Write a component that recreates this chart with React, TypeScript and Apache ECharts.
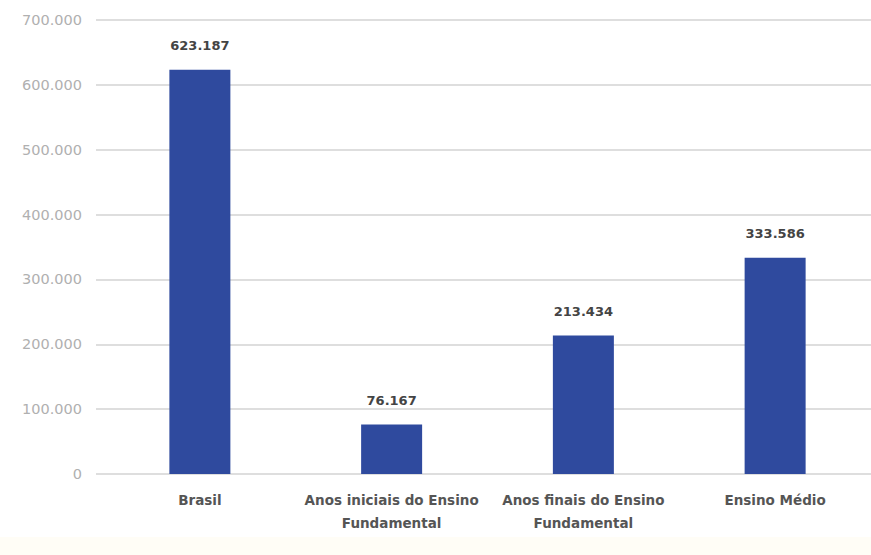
import React, { useEffect, useRef } from "react";
import * as echarts from "echarts";

const categories = [
  "Brasil",
  "Anos iniciais do Ensino\nFundamental",
  "Anos finais do Ensino\nFundamental",
  "Ensino Médio",
];
const values = [623187, 76167, 213434, 333586];
const yMin = 0;
const yMax = 700000;
const yInterval = 100000;

const fmt = (v: number) => String(Math.round(v)).replace(/\B(?=(\d{3})+(?!\d))/g, ".");

export default function App() {
  const ref = useRef<HTMLDivElement>(null);
  useEffect(() => {
    if (!ref.current) return;
    const chart = echarts.init(ref.current, undefined, { renderer: "svg" });
    chart.setOption({
      animation: false,
      backgroundColor: "#ffffff",
      grid: { left: 104, right: -2, top: 20, bottom: 81, containLabel: false },
      graphic: [
        {
          type: "rect",
          left: 0,
          top: 537,
          shape: { width: 871, height: 18 },
          style: { fill: "#fffdf6" },
          silent: true,
          z: -10,
        },
      ],
      xAxis: {
        type: "category",
        data: categories,
        axisLine: { show: false },
        axisTick: { show: false },
        axisLabel: {
          interval: 0,
          margin: 14,
          color: "#555555",
          fontFamily: "DejaVu Sans",
          fontWeight: "bold",
          fontSize: 13.5,
          lineHeight: 23,
        },
      },
      yAxis: {
        type: "value",
        min: yMin,
        max: yMax,
        interval: yInterval,
        axisLine: { show: false },
        axisTick: {
          show: true,
          length: 8,
          lineStyle: { color: "#d3d3d3", width: 1.5 },
        },
        splitLine: { lineStyle: { color: "#d3d3d3", width: 1.5 } },
        axisLabel: {
          margin: 22,
          color: "#b0b0b0",
          fontFamily: "DejaVu Sans",
          fontSize: 14.5,
          formatter: (v: number) => fmt(v),
        },
      },
      series: [
        {
          type: "bar",
          data: values,
          barWidth: 61,
          itemStyle: { color: "#2f4a9e" },
          label: {
            show: true,
            position: "top",
            distance: 18,
            color: "#444444",
            fontFamily: "DejaVu Sans",
            fontWeight: "bold",
            fontSize: 13,
            formatter: (p: any) => fmt(p.value),
          },
        },
      ],
    });
    return () => chart.dispose();
  }, []);
  return (
    <div
      ref={ref}
      style={{ position: "fixed", left: 0, top: 0, width: 871, height: 555 }}
    />
  );
}
